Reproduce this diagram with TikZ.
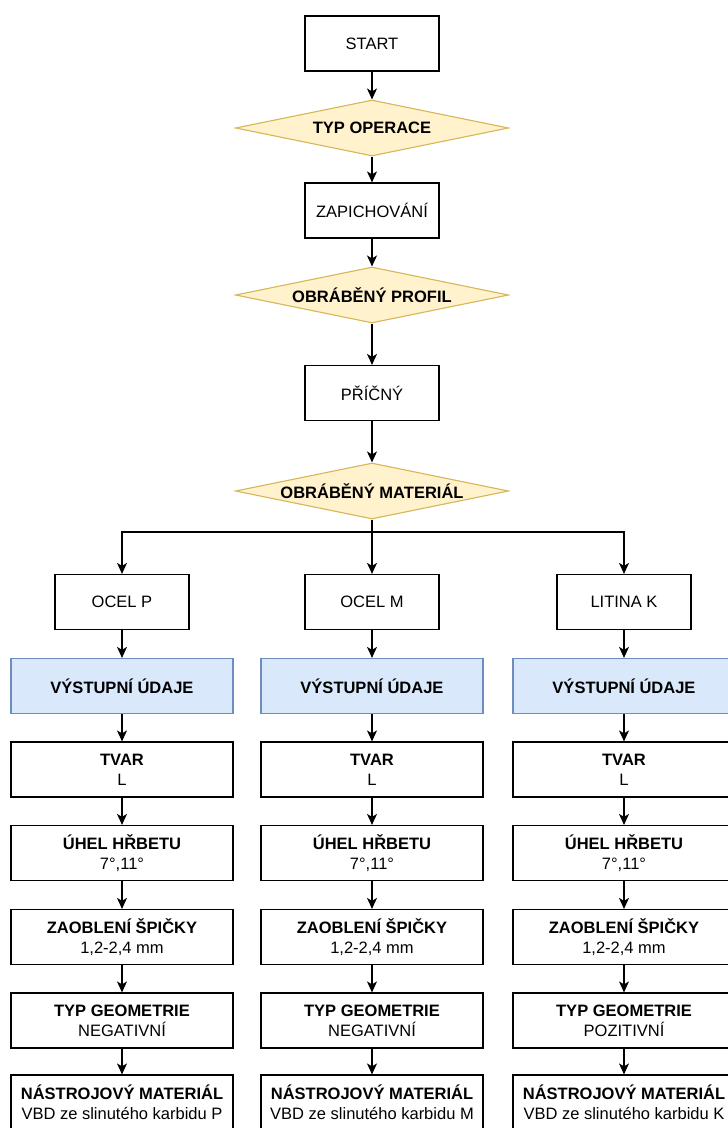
\documentclass[tikz,border=0pt]{standalone}
\usepackage{fontspec}
\setmainfont{Liberation Sans}
\usetikzlibrary{shapes.geometric, arrows.meta, positioning}
\definecolor{zlutafill}{HTML}{FFF2CC}
\definecolor{zlutaline}{HTML}{D6B656}
\definecolor{modrafill}{HTML}{DAE8FC}
\definecolor{modraline}{HTML}{6C8EBF}

\begin{document}
\begin{tikzpicture}[x=1pt,y=-1pt,
    font=\fontsize{16.5}{20}\selectfont,
    krok/.style={rectangle,draw=black,line width=1.2pt,minimum width=134pt,minimum height=55pt,align=center,inner sep=2pt},
    siroky/.style={krok,minimum width=222pt},
    vystup/.style={siroky,draw=modraline,fill=modrafill,font=\fontsize{16.5}{20}\selectfont\bfseries},
    rozhod/.style={diamond,draw=zlutaline,fill=zlutafill,line width=1.1pt,minimum width=273pt,minimum height=56pt,shape aspect=4.9,inner sep=0pt,font=\fontsize{16.5}{20}\selectfont\bfseries},
    sipka/.style={-{Stealth[length=11pt,width=10pt,inset=3pt]},line width=1.2pt}]
    \useasboundingbox (0,0) rectangle (728,1128);

    % Hlavni vetev
    \node[krok] (start) at (372,43.5) {START};
    \node[rozhod] (typop) at (372,128) {TYP OPERACE};
    \node[krok] (zapich) at (372,210.5) {ZAPICHOVÁNÍ};
    \node[rozhod] (profil) at (372,295) {OBRÁBĚNÝ PROFIL};
    \node[krok] (pricny) at (372,393) {PŘÍČNÝ};
    \node[rozhod] (material) at (372,491) {OBRÁBĚNÝ MATERIÁL};
    \coordinate (rozvod) at (372,532);

    \draw[sipka] (start) -- (typop);
    \draw[sipka] (typop) -- (zapich);
    \draw[sipka] (zapich) -- (profil);
    \draw[sipka] (profil) -- (pricny);
    \draw[sipka] (pricny) -- (material);

    % Tri sloupce podle materialu
    \foreach \s/\x/\mat/\geo/\k in {p/122/OCEL P/NEGATIVNÍ/P, m/372/OCEL M/NEGATIVNÍ/M, k/624/LITINA K/POZITIVNÍ/K} {
        \node[krok] (mat\s) at (\x,602) {\mat};
        \node[vystup] (vyst\s) at (\x,686) {VÝSTUPNÍ ÚDAJE};
        \node[siroky] (tvar\s) at (\x,769.5) {\textbf{TVAR}\\L};
        \node[siroky] (uhel\s) at (\x,853) {\textbf{ÚHEL HŘBETU}\\7°,11°};
        \node[siroky] (spic\s) at (\x,937) {\textbf{ZAOBLENÍ ŠPIČKY}\\1,2-2,4 mm};
        \node[siroky] (geo\s) at (\x,1020.5) {\textbf{TYP GEOMETRIE}\\\geo};
        \node[siroky] (nastr\s) at (\x,1102.5) {\textbf{NÁSTROJOVÝ MATERIÁL}\\VBD ze slinutého karbidu \k};

        \draw[sipka] (mat\s) -- (vyst\s);
        \draw[sipka] (vyst\s) -- (tvar\s);
        \draw[sipka] (tvar\s) -- (uhel\s);
        \draw[sipka] (uhel\s) -- (spic\s);
        \draw[sipka] (spic\s) -- (geo\s);
        \draw[sipka] (geo\s) -- (nastr\s);
    }

    \draw[sipka] (material) -- (matm);
    \draw[sipka] (material.south) -- (rozvod) -| (matp);
    \draw[sipka] (rozvod) -| (matk);
\end{tikzpicture}
\end{document}
